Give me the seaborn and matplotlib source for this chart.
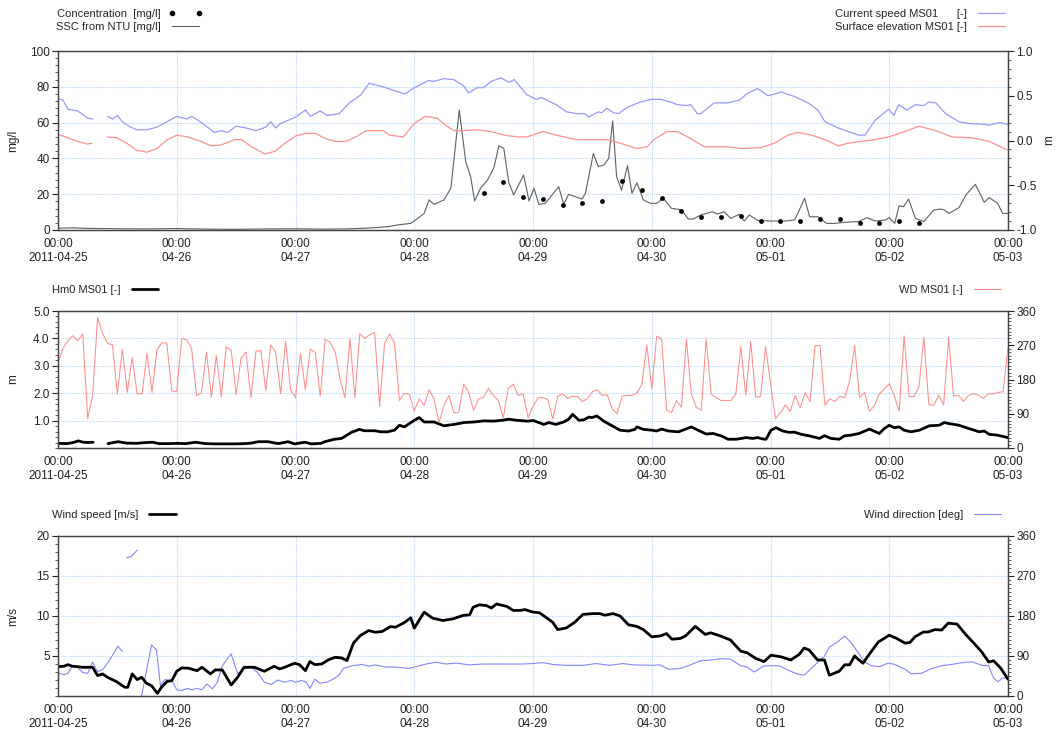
import numpy as np
import pandas as pd
import matplotlib
matplotlib.use('Agg')
import matplotlib.pyplot as plt
import matplotlib.dates as mdates
from matplotlib.ticker import MultipleLocator, FuncFormatter, FormatStrFormatter
from matplotlib.lines import Line2D
import seaborn as sns

sns.set_style('white')
plt.rcParams['font.family'] = ['Liberation Sans', 'DejaVu Sans']

START = pd.Timestamp('2011-04-25 00:00')
END = pd.Timestamp('2011-05-03 00:00')
nan = np.nan

# ---- panel 1: SSC / concentration (mg/l) and current speed / surface elevation (m)
cs_hours = [0, 1, 2, 4, 6, 7, 8.5, 10, 11, 12, 13, 14.6, 16, 18, 20, 22, 24, 26, 27, 29,
            31.6, 33, 34.3, 36, 38, 40, 42, 43, 44, 45, 48, 50, 51, 53, 54.4, 56.8, 58.9,
            61.2, 62.9, 65.7, 68.4, 70.1, 72, 74.9, 75.9, 77.9, 80, 82, 83, 84.7, 86, 87.5,
            89.5, 91.2, 92.2, 94.8, 96.7, 97.7, 100.7, 102.8, 104.8, 106.5, 107.2, 109.2,
            109.9, 110.9, 112.3, 113.3, 115, 117.7, 119.9, 121.8, 123.8, 125.2, 127.2, 127.9,
            129.2, 129.9, 132.6, 135.3, 137.7, 139.4, 141.4, 143.5, 146.2, 148.9, 151.6,
            153.6, 155, 157.7, 159.7, 161.8, 163.1, 165.2, 167.9, 168.9, 169.9, 171.6, 173.3,
            175, 176, 177.4, 179.4, 182.1, 184.1, 187.5, 188.2, 190.2, 192]
cs_vals = [0.47, 0.45, 0.35, 0.33, 0.25, 0.24, nan, 0.27, 0.24, 0.28, 0.21, 0.15, 0.12, 0.12,
           0.15, 0.21, 0.27, 0.24, 0.27, 0.20, 0.09, 0.11, 0.09, 0.16, 0.14, 0.11, 0.15, 0.21,
           0.14, 0.19, 0.26, 0.34, 0.27, 0.33, 0.28, 0.30, 0.42, 0.51, 0.64, 0.60, 0.55, 0.52,
           0.59, 0.67, 0.66, 0.69, 0.68, 0.61, 0.53, 0.59, 0.59, 0.66, 0.70, 0.65, 0.68, 0.51,
           0.46, 0.48, 0.40, 0.32, 0.30, 0.30, 0.26, 0.32, 0.31, 0.36, 0.31, 0.30, 0.37, 0.43,
           0.46, 0.46, 0.43, 0.40, 0.39, 0.40, 0.30, 0.30, 0.42, 0.42, 0.45, 0.53, 0.58, 0.50,
           0.54, 0.49, 0.42, 0.34, 0.21, 0.14, 0.10, 0.06, 0.06, 0.23, 0.35, 0.28, 0.40, 0.34,
           0.40, 0.39, 0.43, 0.42, 0.30, 0.21, 0.19, 0.18, 0.17, 0.20, 0.18]

se_hours = [0, 2, 4, 5.9, 6.9, 8.5, 9.9, 11.9, 13.9, 15.9, 18, 20, 22.1, 24, 26.2, 28.9,
            30.9, 33, 35.7, 37.1, 39.1, 41.8, 43.9, 45.9, 48, 50, 52, 54.1, 56.1, 58.2, 60.2,
            62.3, 65.7, 67, 69.8, 72, 74.2, 76.6, 78.6, 80, 82, 84.7, 87.5, 90.2, 92.9, 94.8,
            98, 100.7, 104.8, 108.2, 110.9, 113.6, 117, 119.1, 120.4, 123.1, 125.2, 127.9,
            130.6, 135.3, 138, 142.1, 144.8, 147.5, 149.6, 152.3, 155, 157.7, 159.7, 162.4,
            165.2, 167.9, 170.6, 174, 177.4, 180.7, 184.8, 188.2, 192]
se_vals = [0.07, 0.03, -0.01, -0.04, -0.03, nan, 0.04, 0.03, -0.03, -0.11, -0.13, -0.09,
           0.01, 0.06, 0.04, -0.01, -0.06, -0.05, 0.01, 0.01, -0.07, -0.15, -0.12, -0.03, 0.05,
           0.08, 0.08, 0.02, -0.01, -0.01, 0.04, 0.11, 0.11, 0.06, 0.04, 0.19, 0.27, 0.25,
           0.16, 0.11, 0.11, 0.12, 0.10, 0.06, 0.04, 0.04, 0.10, 0.06, 0.01, 0.01, 0.01, -0.03,
           -0.09, -0.07, 0.01, 0.10, 0.10, 0.02, -0.07, -0.07, -0.09, -0.08, -0.03, 0.06, 0.09,
           0.06, 0.01, -0.06, -0.03, -0.01, 0.01, 0.04, 0.09, 0.16, 0.11, 0.04, 0.03, -0.01,
           -0.11]

ssc_hours = [0, 3, 6, 12, 18, 24, 30, 36, 42, 48, 54, 58, 62, 65, 67, 68.6, 71.3, 72.7, 74,
             75, 76, 78, 79.4, 81.1, 82.4, 83.4, 84.2, 85.4, 86.8, 88.1, 89.1, 90.1, 91.1,
             92.1, 94.1, 95.2, 96.2, 97.2, 98.5, 101.2, 102.2, 103.2, 105.9, 106.6, 108.2,
             109.2, 110.3, 111.3, 112.1, 112.9, 113.9, 115.1, 116, 117, 118.3, 119.7, 121,
             122.3, 124, 126, 127.4, 128.4, 129.9, 132.3, 133.3, 134.6, 136, 137.7, 138.7,
             139.7, 141.4, 144.1, 146.8, 148.9, 150.9, 151.9, 153.6, 155.3, 157, 159, 161.8,
             163.5, 165.2, 167.2, 168, 169.1, 170, 170.9, 171.9, 173.3, 175, 177, 178.4, 179.1,
             180.1, 182.1, 183.5, 185.4, 187.2, 188.2, 189.9, 190.9, 192]
ssc_vals = [1.0, 1.2, 0.9, 0.7, 0.6, 0.8, 0.5, 0.4, 0.6, 0.7, 0.5, 0.6, 1.0, 1.5, 2.0, 2.8,
            3.7, 6.5, 9.3, 16.8, 14.3, 16.8, 23.3, 67.0, 38.2, 29.8, 16.2, 23.3, 27.9, 34.8,
            47.1, 45.6, 26.6, 19.6, 30.7, 16.2, 23.3, 14.3, 14.9, 24.2, 14.3, 19.9, 17.3, 20.5,
            42.8, 35.4, 36.3, 40.0, 60.9, 29.8, 22.3, 35.9, 20.5, 26.4, 16.8, 14.9, 14.9, 17.7,
            12.1, 11.2, 6.1, 6.1, 8.4, 10.2, 8.9, 10.2, 6.5, 8.8, 5.0, 8.4, 5.4, 5.0, 5.0, 5.6,
            17.7, 7.4, 7.4, 3.7, 3.7, 4.3, 4.7, 6.9, 5.0, 5.6, 6.9, 3.7, 13.6, 13.0, 17.3, 6.5,
            4.7, 11.2, 11.7, 11.2, 9.3, 12.5, 19.6, 25.5, 15.5, 18.1, 14.9, 9.3, 9.3]

conc_hours = [86, 90, 94, 98, 102, 106, 110, 114, 118, 122, 126, 130, 134, 138, 142, 146,
              150, 154, 158, 162, 166, 170, 174]
conc_vals = [20.9, 27.0, 18.6, 17.3, 14.0, 15.3, 16.4, 27.6, 22.3, 17.7, 10.8, 7.1, 7.1, 8.0,
             5.2, 5.0, 5.0, 6.0, 6.0, 4.1, 4.1, 5.2, 4.1]

# ---- panel 2: Hm0 (m) and wave direction (deg, hourly)
hm0_hours = [0, 1.8, 3.1, 4.1, 5.1, 6.1, 7.1, 8.5, 10.1, 12.1, 13.8, 15.8, 17.8, 19.1, 20.5,
             22.5, 24, 25.8, 27.8, 29.8, 31.8, 33.8, 35.8, 37.8, 39.1, 40.5, 42.5, 44.5, 46.5,
             47.8, 49.9, 51.2, 53.2, 53.9, 55.9, 57.3, 59.3, 60.9, 61.9, 64, 65.3, 66.6, 68,
             69, 70, 71, 72, 73, 74, 76, 78, 80, 82.1, 84.1, 86.1, 88.1, 90.1, 91.1, 92.8,
             94.8, 96.1, 98.2, 99.2, 100.6, 102.2, 103.2, 104, 105.3, 106.3, 107.3, 107.9,
             108.9, 110.3, 112, 113.6, 115.3, 116.6, 117, 118.3, 120, 121, 122, 123.4, 125.4,
             126.7, 128, 129.7, 131, 132.4, 134.1, 135.4, 137.1, 139.1, 140.4, 141.4, 142.4,
             143.1, 144.1, 145.1, 146.5, 147.8, 148.8, 150.2, 151.9, 153.9, 154.9, 156.2,
             157.9, 158.9, 160.3, 161.9, 164, 166, 167, 168, 169, 170, 171, 172.4, 174.1,
             176.1, 178.1, 179.1, 180.1, 182.1, 184.1, 186.2, 187.2, 188.2, 189.8, 192]
hm0_vals = [0.17, 0.16, 0.20, 0.26, 0.21, 0.20, 0.21, nan, 0.16, 0.23, 0.18, 0.17, 0.20,
            0.21, 0.16, 0.16, 0.17, 0.16, 0.21, 0.16, 0.15, 0.15, 0.15, 0.16, 0.18, 0.23, 0.23,
            0.16, 0.23, 0.15, 0.21, 0.15, 0.17, 0.23, 0.32, 0.35, 0.57, 0.68, 0.63, 0.63, 0.59,
            0.59, 0.65, 0.83, 0.77, 0.89, 1.01, 1.11, 0.95, 0.95, 0.81, 0.86, 0.93, 0.95, 0.99,
            0.98, 1.02, 1.05, 1.01, 0.98, 1.00, 0.86, 0.93, 0.86, 0.95, 1.05, 1.23, 1.01, 1.03,
            1.13, 1.11, 1.17, 0.98, 0.81, 0.65, 0.62, 0.68, 0.77, 0.68, 0.65, 0.62, 0.69, 0.62,
            0.59, 0.68, 0.77, 0.62, 0.51, 0.53, 0.44, 0.32, 0.32, 0.38, 0.35, 0.38, 0.33, 0.32,
            0.65, 0.74, 0.62, 0.57, 0.58, 0.50, 0.44, 0.35, 0.45, 0.35, 0.32, 0.44, 0.47, 0.53,
            0.69, 0.53, 0.71, 0.83, 0.74, 0.77, 0.65, 0.59, 0.65, 0.81, 0.83, 0.93, 0.89, 0.83,
            0.71, 0.59, 0.62, 0.50, 0.47, 0.38]

wd_deg = [223, 262, 281, 295, 282, 300, 77, 138, 343, 302,
          275, 271, 142, 260, 146, 238, 142, 143, 249, 146,
          258, 277, 275, 150, 148, 288, 284, 262, 138, 144,
          252, 133, 243, 135, 266, 256, 140, 237, 252, 132,
          254, 256, 150, 271, 251, 143, 280, 153, 132, 248,
          153, 260, 251, 136, 286, 277, 254, 181, 132, 288,
          132, 301, 288, 297, 304, 110, 275, 299, 277, 125,
          143, 142, 97, 129, 112, 153, 129, 67, 112, 138,
          93, 94, 168, 146, 99, 129, 133, 157, 138, 125,
          79, 157, 168, 138, 142, 80, 109, 132, 133, 127,
          76, 136, 143, 130, 136, 135, 122, 130, 148, 153,
          138, 140, 103, 90, 136, 138, 138, 144, 168, 271,
          156, 294, 286, 99, 93, 125, 107, 286, 142, 107,
          99, 286, 142, 133, 125, 125, 125, 142, 266, 139,
          280, 133, 136, 266, 172, 77, 92, 113, 96, 138,
          106, 145, 122, 269, 269, 112, 129, 122, 136, 132,
          176, 269, 133, 146, 96, 112, 142, 155, 169, 138,
          96, 295, 135, 135, 161, 291, 114, 112, 139, 113,
          291, 136, 139, 123, 138, 143, 139, 130, 142, 142,
          146, 148, 264]
wd_hours = list(range(len(wd_deg)))

# ---- panel 3: wind speed (m/s) and wind direction (deg)
ws_hours = [0, 1.2, 2, 2.9, 3.9, 4.9, 7, 8, 9, 10, 11.8, 13.5, 14.1, 15, 16, 16.9, 17.9,
            18.9, 20.1, 20.9, 22, 23, 24, 25, 26.4, 28.1, 29.1, 30.8, 31.8, 33.2, 35, 36.3,
            37.6, 39.7, 41.7, 43.7, 44.8, 45.8, 47.8, 48.8, 50, 50.9, 51.9, 53.3, 54.6, 56,
            57.3, 58.4, 59.7, 61.1, 62.8, 64.1, 65.5, 67.2, 68.2, 69.9, 71.3, 72, 74, 75.7,
            77.8, 79.8, 81.8, 83.2, 83.9, 85.2, 86.6, 87.6, 88.6, 90.7, 92, 93.4, 94.4,
            95.9, 97.3, 98.7, 100, 101, 102.7, 104.4, 106.1, 108.1, 109.5, 110.5, 112.2,
            113.6, 115.3, 117, 118.3, 120, 121.7, 123, 124.1, 125.8, 126.8, 128.8, 130.8,
            131.9, 133.9, 135.9, 138, 139.3, 141, 142.7, 144.1, 146.1, 148.1, 149.8, 150.8,
            151.8, 153.5, 154.9, 155.9, 157.9, 159, 160, 161, 161.7, 162.7, 163.7, 165.8,
            168, 169.5, 171.2, 172.2, 173.2, 174.9, 175.9, 177.2, 178.6, 179.9, 181.7, 183.3,
            185.4, 186.7, 188.1, 189.1, 190.5, 192]
ws_vals = [3.67, 3.72, 3.92, 3.72, 3.67, 3.59, 3.59, 2.55, 2.76, 2.34, 1.8, 1.09, 1.09, 2.76,
           2.05, 2.34, 1.59, 1.29, 0.33, 1.09, 1.8, 1.92, 3.09, 3.51, 3.47, 3.17, 3.59, 2.76,
           3.26, 3.26, 1.38, 2.34, 3.59, 3.59, 3.09, 3.72, 3.38, 3.59, 4.09, 3.92, 3.17, 4.3,
           3.92, 4.0, 4.51, 4.84, 4.76, 4.43, 6.6, 7.56, 8.18, 7.97, 8.06, 8.68, 8.6, 9.14,
           9.77, 8.48, 10.48, 9.73, 9.44, 9.64, 10.06, 10.15, 11.1, 11.4, 11.3, 11.0, 11.5,
           11.2, 10.7, 10.7, 10.8,
           10.5, 10.4, 9.8, 9.2, 8.3, 8.5, 9.2, 10.2, 10.3, 10.3, 10.1, 10.3, 10.0, 8.9, 8.7,
           8.3, 7.4, 7.5, 7.8, 7.1, 7.2, 7.5, 8.7, 7.7, 7.9, 7.5, 7.0, 5.6, 5.4, 4.7, 4.3, 5.1,
           4.9, 4.5, 5.2, 6.0, 5.75, 4.5, 4.5, 2.6, 3.1, 3.9, 3.9, 5.0, 4.6, 4.1, 5.0, 6.75,
           7.6, 7.2, 6.6, 6.7, 7.4, 8.0, 8.0, 8.3, 8.25, 9.1, 9.0, 7.8, 6.4, 5.5, 4.25, 4.4,
           3.5, 2.1]

wdir_hours = [0, 1.2, 2, 2.9, 3.9, 5, 6, 7, 8, 9, 10.4, 12.1, 13, 13.5, 13.9, 14.8, 16, 16.5,
              16.9, 18.9, 19.9, 20.7, 21.6, 23, 24, 25, 26.1, 27.1, 28.1, 29.1, 30.1, 31.2,
              32.2, 33.2, 35, 36.3, 37.6, 39, 40.3, 41.7, 43.1, 44.4, 45.8, 47.1, 48, 49.2,
              50.2, 50.9, 51.9, 52.9, 54.3, 55.6, 56.7, 57.7, 59.4, 61.4, 62.8, 64.1, 66.2,
              68.2, 71, 72, 74.4, 76.4, 78.4, 80.5, 83.2, 85.9, 88.6, 91.4, 94.1, 95.9, 98,
              100, 102.7, 106.1, 108.8, 111.5, 114.2, 116.3, 120, 121.7, 123.4, 125.8, 127.8,
              129.8, 131.9, 133.9, 135.9, 138, 139.3, 140.7, 142.7, 145.7, 147.4, 149.5, 150.8,
              152.9, 154.9, 155.9, 157.6, 159, 160.3, 161.7, 163, 164.4, 166.1, 167.8, 169.1,
              171.2, 172.5, 174.5, 176.6, 178.6, 180.6, 182.7, 184.7, 186.7, 188.1, 189.1, 190,
              190.8, 192]
wdir_vals = [52, 48, 51, 67, 65, 53, 51, 76, 55, 59, 80, 112, 100, nan, 311, 314, 328, nan,
             0, 115, 104, 23, 37, 35, 14, 12, 17, 14, 17, 14, 27, 16, 31, 68, 95, 50, 61, 65,
             53, 31, 26, 36, 31, 35, 31, 35, 31, 17, 38, 29, 31, 38, 46, 62, 68, 71, 67, 70,
             65, 65, 62, 65, 72, 76, 72, 74, 70, 72, 72, 72, 72, 73, 75, 71, 69, 69, 73, 69,
             73, 70, 69, 70, 60, 62, 70, 79, 81, 84, 83, 68, 65, 54, 68, 68, 59, 49, 47, 69,
             90, 110, 122, 135, 120, 98, 77, 68, 66, 74, 71, 60, 50, 51, 62, 68, 71, 75, 77,
             69, 68, 40, 32, 40, 41]

# colours
C_CUR = '#9898ff'
C_SURF = '#ff9090'
C_SSC = '#606060'
C_WD = '#ff8c8c'
C_WDIR = '#8585ff'
GRID = '#b8d6f7'
SPINE = '#444444'

W, H = 1058, 736
fig = plt.figure(figsize=(W / 100, H / 100), dpi=100)


def rect(top, bottom, left=58, right=1008):
    return [left / W, 1 - bottom / H, (right - left) / W, (bottom - top) / H]


def frame(hours, vals):
    df = pd.DataFrame({'hours': hours, 'val': vals})
    df['time'] = START + pd.to_timedelta(df['hours'], unit='h')
    df['seg'] = df['val'].isna().cumsum()
    return df.dropna(subset=['val'])


def draw(ax, hours, vals, color, lw):
    sns.lineplot(data=frame(hours, vals), x='time', y='val', units='seg', estimator=None,
                 color=color, lw=lw, ax=ax, legend=False)


def day_label(x, pos=None):
    d = mdates.num2date(x)
    if d.date() == START.date():
        return '00:00\n2011-04-25'
    return '00:00\n' + d.strftime('%m-%d')


def style(ax, axr):
    ax.set_xlim(START, END)
    ax.xaxis.set_major_locator(mdates.DayLocator())
    ax.xaxis.set_minor_locator(mdates.HourLocator(byhour=range(0, 24, 2)))
    ax.xaxis.set_major_formatter(FuncFormatter(day_label))
    ax.set_xlabel('')
    axr.set_xlabel('')
    for a in (ax, axr):
        a.tick_params(which='major', direction='out', length=4, width=0.8,
                      labelsize=8.5, colors='#222222', pad=2)
        a.tick_params(which='minor', direction='out', length=2, width=0.6, colors='#444444')
        for s in a.spines.values():
            s.set_color(SPINE)
            s.set_linewidth(0.9)
    ax.grid(True, which='major', color=GRID, linestyle=(0, (1, 1)), lw=0.8)
    axr.grid(False)
    ax.yaxis.set_label_coords(-0.041, 0.5)


def legend(ax, handles, labels, x, y, loc):
    ax.legend(handles, labels, loc=loc, bbox_to_anchor=(x / W, 1 - y / H),
              bbox_transform=fig.transFigure, frameon=False, fontsize=8,
              markerfirst=False, borderpad=0, borderaxespad=0, handlelength=3,
              handletextpad=0.7, labelspacing=0.25, numpoints=2)


# ---------------- panel 1
ax1 = fig.add_axes(rect(51, 230))
ax1r = ax1.twinx()
draw(ax1, ssc_hours, ssc_vals, C_SSC, 0.8)
conc = frame(conc_hours, conc_vals)
sns.scatterplot(data=conc, x='time', y='val', color='black', s=12, linewidth=0,
                ax=ax1, legend=False, zorder=5)
draw(ax1r, cs_hours, cs_vals, C_CUR, 0.9)
draw(ax1r, se_hours, se_vals, C_SURF, 0.9)
ax1.set_ylim(0, 100)
ax1.yaxis.set_major_locator(MultipleLocator(20))
ax1.yaxis.set_minor_locator(MultipleLocator(4))
ax1r.set_ylim(-1, 1)
ax1r.yaxis.set_major_locator(MultipleLocator(0.5))
ax1r.yaxis.set_minor_locator(MultipleLocator(0.1))
ax1r.yaxis.set_major_formatter(FormatStrFormatter('%.1f'))
ax1.set_ylabel('mg/l', fontsize=8.5)
ax1r.set_ylabel('m', fontsize=8.5)
ax1r.yaxis.set_label_coords(1.037, 0.5)
style(ax1, ax1r)
legend(ax1, [Line2D([], [], ls='', marker='o', ms=3, color='black'),
             Line2D([], [], color=C_SSC, lw=0.8)],
       ['Concentration  [mg/l]', 'SSC from NTU [mg/l]'], 56, 9, 'upper left')
legend(ax1r, [Line2D([], [], color=C_CUR, lw=0.9), Line2D([], [], color=C_SURF, lw=0.9)],
       ['Current speed MS01      [-]', 'Surface elevation MS01 [-]'], 1008, 9, 'upper right')

# ---------------- panel 2
ax2 = fig.add_axes(rect(311, 448))
ax2r = ax2.twinx()
draw(ax2, hm0_hours, hm0_vals, 'black', 2.0)
draw(ax2r, wd_hours, wd_deg, C_WD, 0.75)
ax2.set_ylim(0, 5)
ax2.set_yticks([1, 2, 3, 4, 5])
ax2.yaxis.set_minor_locator(MultipleLocator(0.2))
ax2.yaxis.set_major_formatter(FormatStrFormatter('%.1f'))
ax2r.set_ylim(0, 360)
ax2r.yaxis.set_major_locator(MultipleLocator(90))
ax2r.yaxis.set_minor_locator(MultipleLocator(9))
ax2.set_ylabel('m', fontsize=8.5)
ax2r.set_ylabel('')
style(ax2, ax2r)
legend(ax2, [Line2D([], [], color='black', lw=2)], ['Hm0 MS01 [-]'], 52, 285, 'upper left')
legend(ax2r, [Line2D([], [], color=C_WD, lw=0.8)], ['WD MS01 [-]'], 1004, 285, 'upper right')

# ---------------- panel 3
ax3 = fig.add_axes(rect(536, 696))
ax3r = ax3.twinx()
draw(ax3r, wdir_hours, wdir_vals, C_WDIR, 0.8)
draw(ax3, ws_hours, ws_vals, 'black', 2.0)
ax3.set_zorder(ax3r.get_zorder() + 1)
ax3.patch.set_visible(False)
ax3.set_ylim(0, 20)
ax3.set_yticks([5, 10, 15, 20])
ax3.yaxis.set_minor_locator(MultipleLocator(1))
ax3r.set_ylim(0, 360)
ax3r.yaxis.set_major_locator(MultipleLocator(90))
ax3r.yaxis.set_minor_locator(MultipleLocator(9))
ax3.set_ylabel('m/s', fontsize=8.5)
ax3r.set_ylabel('')
style(ax3, ax3r)
legend(ax3, [Line2D([], [], color='black', lw=2)], ['Wind speed [m/s]'], 52, 510, 'upper left')
legend(ax3r, [Line2D([], [], color=C_WDIR, lw=0.8)], ['Wind direction [deg]'], 1004, 510,
       'upper right')

fig.savefig('out.png', dpi=100)
